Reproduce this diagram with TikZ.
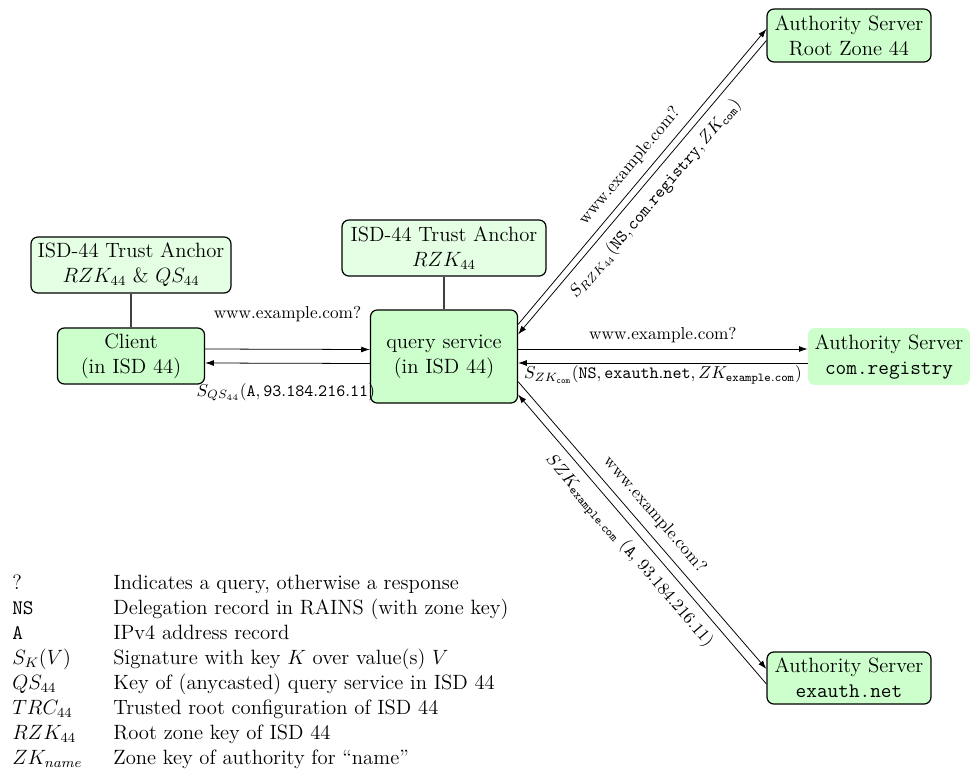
\documentclass[12pt,tikz,border=0pt]{standalone}
\usetikzlibrary{arrows.meta,calc}

\tikzset{
  box/.style={draw, rounded corners=4pt, line width=0.7pt, align=center,
    inner sep=0pt, font=\normalsize},
  mainbox/.style={box, fill=green!20},
  trustbox/.style={box, fill=green!10},
  plainbox/.style={rounded corners=4pt, fill=green!20, align=center,
    inner sep=0pt, font=\normalsize},
  arr/.style={-{Latex[length=5pt,width=3.4pt]}, line width=0.45pt},
  link/.style={line width=0.6pt, black!75},
  lbl/.style={font=\footnotesize, inner sep=3.3pt},
}

\begin{document}
\begin{tikzpicture}[x=0.58pt, y=-0.58pt]
\useasboundingbox (0,0) rectangle (970,772);

% boxes
\node[trustbox, minimum width=116pt, minimum height=32.5pt] (ta1) at (131,265)
  {ISD-44 Trust Anchor\\ $RZK_{44}$ \& $QS_{44}$};
\node[mainbox, minimum width=85.3pt, minimum height=32.5pt] (client) at (131,356)
  {Client\\(in ISD 44)};
\node[trustbox, minimum width=118.3pt, minimum height=32.5pt] (ta2) at (444,248)
  {ISD-44 Trust Anchor\\ $RZK_{44}$};
\node[mainbox, minimum width=85.3pt, minimum height=54pt] (qs) at (444,356.5)
  {query service\\(in ISD 44)};
\node[mainbox, minimum width=95.1pt, minimum height=30.7pt] (root) at (849,35.5)
  {Authority Server\\Root Zone 44};
\node[plainbox, minimum width=94pt, minimum height=33pt] (com) at (889,356.5)
  {Authority Server\\\texttt{com.registry}};
\node[mainbox, minimum width=95.1pt, minimum height=30.2pt] (exauth) at (849,678)
  {Authority Server\\\texttt{exauth.net}};

% trust anchors
\draw[link] (ta1) -- (client);
\draw[link] (ta2) -- (qs);

% client <-> query service
\draw[arr] ($(client.east)+(0,-7)$) -- ($(qs.west)+(0,-7)$)
  node[lbl, midway, above, yshift=12.5pt] {www.example.com?};
\draw[arr] ($(qs.west)+(0,7)$) -- ($(client.east)+(0,7)$)
  node[lbl, midway, below, yshift=-8pt, xshift=-1pt]
  {$S_{QS_{44}}(\mathtt{A}, \mathtt{93.184.216.11})$};

% query service <-> root zone
\draw[arr] ($(qs.north east)+(0,15)$) -- ($(root.west)+(0,-6.5)$)
  node[lbl, midway, sloped, above, yshift=1.5pt] {www.example.com?};
\draw[arr] ($(root.west)+(0,5)$) -- ($(qs.north east)+(0,25)$)
  node[lbl, midway, sloped, below, yshift=-1.5pt]
  {$S_{RZK_{44}}(\mathtt{NS}, \mathtt{com.registry}, ZK_{\mathtt{com}})$};

% query service <-> com.registry
\draw[arr] ($(qs.east)+(0,-7.5)$) -- ($(com.west)+(0,-7.5)$)
  node[lbl, midway, above] {www.example.com?};
\draw[arr] ($(com.west)+(0,6.5)$) -- ($(qs.east)+(0,6.5)$)
  node[lbl, midway, below, inner sep=1.5pt]
  {$S_{ZK_{\mathtt{com}}}(\mathtt{NS}, \mathtt{exauth.net}, ZK_{\mathtt{example.com}})$};

% query service <-> exauth.net
\draw[arr] ($(qs.south east)+(0,-22)$) -- ($(exauth.west)+(0,-9)$)
  node[lbl, midway, sloped, above, yshift=1.5pt] {www.example.com?};
\draw[arr] ($(exauth.west)+(0,6)$) -- ($(qs.south east)+(0,-9)$)
  node[lbl, midway, sloped, below, yshift=-1.5pt]
  {$SZK_{\mathtt{example.com}}$ (\texttt{A}, 93.184.216.11)};

% legend
\node[anchor=base west, inner sep=0pt, font=\normalsize] (legend) at (12,589)
  {\begin{tabular}[t]{@{}p{58.6pt}@{}l@{}}
   ? & Indicates a query, otherwise a response\\
   \texttt{NS} & Delegation record in RAINS (with zone key)\\
   \texttt{A} & IPv4 address record\\
   $S_K(V)$ & Signature with key $K$ over value(s) $V$\\
   $QS_{44}$ & Key of (anycasted) query service in ISD 44\\
   $TRC_{44}$ & Trusted root configuration of ISD 44\\
   $RZK_{44}$ & Root zone key of ISD 44\\
   $ZK_{name}$ & Zone key of authority for ``name''
  \end{tabular}};
\end{tikzpicture}
\end{document}
